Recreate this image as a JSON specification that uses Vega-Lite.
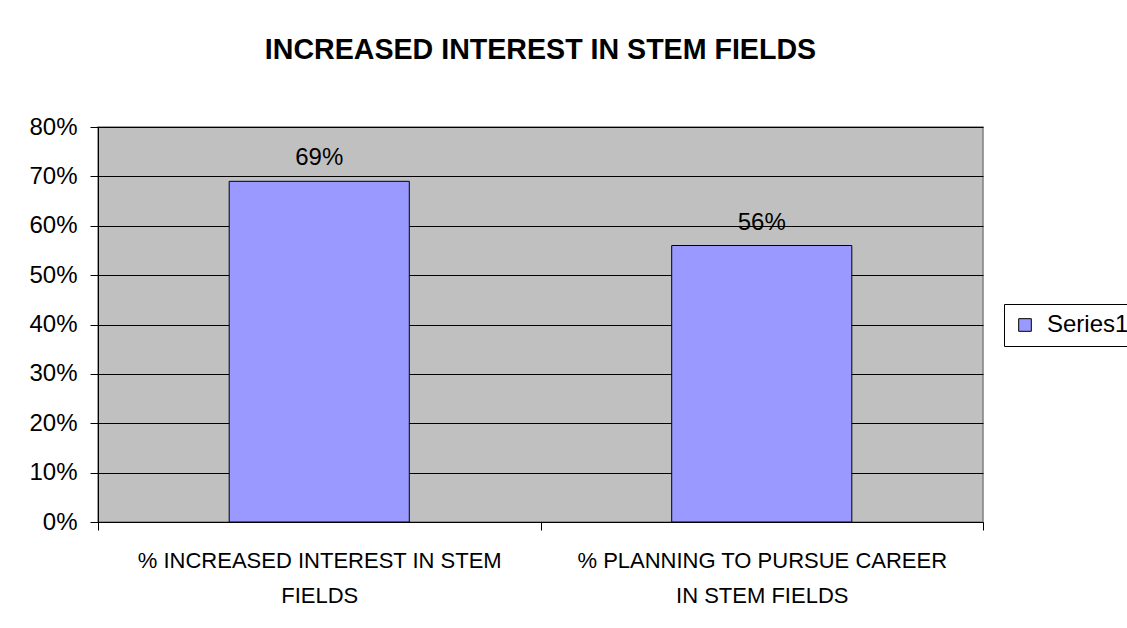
{
  "$schema": "https://vega.github.io/schema/vega-lite/v6.json",
  "width": 885,
  "height": 395,
  "autosize": {"type": "none"},
  "padding": {"left": 98, "top": 127, "right": 144, "bottom": 106},
  "background": "white",
  "title": {
    "text": "INCREASED INTEREST IN STEM FIELDS",
    "font": "Liberation Sans",
    "fontSize": 28.6,
    "fontWeight": "bold",
    "color": "black",
    "anchor": "middle",
    "frame": "group",
    "offset": 50
  },
  "data": {
    "values": [
      {"category": "% INCREASED INTEREST IN STEM FIELDS", "value": 0.69, "series": "Series1"},
      {"category": "% PLANNING TO PURSUE CAREER IN STEM FIELDS", "value": 0.56, "series": "Series1"}
    ]
  },
  "encoding": {
    "x": {
      "field": "category",
      "type": "nominal",
      "sort": null,
      "scale": {"paddingInner": 0, "paddingOuter": 0},
      "axis": {
        "title": null,
        "labelAngle": 0,
        "labelExpr": "datum.label == '% INCREASED INTEREST IN STEM FIELDS' ? ['% INCREASED INTEREST IN STEM', 'FIELDS'] : (datum.label == '% PLANNING TO PURSUE CAREER IN STEM FIELDS' ? ['% PLANNING TO PURSUE CAREER', 'IN STEM FIELDS'] : '')",
        "labelFont": "Liberation Sans",
        "labelFontSize": 22,
        "labelLineHeight": 35,
        "labelColor": "black",
        "labelPadding": 20,
        "labelLimit": 600,
        "tickBand": "extent",
        "tickSize": 8,
        "tickColor": "black",
        "domainColor": "black",
        "grid": false
      }
    },
    "y": {
      "field": "value",
      "type": "quantitative",
      "scale": {"domain": [0, 0.8], "nice": false},
      "axis": {
        "title": null,
        "values": [0, 0.1, 0.2, 0.3, 0.4, 0.5, 0.6, 0.7, 0.8],
        "format": ".0%",
        "labelFont": "Liberation Sans",
        "labelFontSize": 24,
        "labelColor": "black",
        "labelPadding": 13,
        "tickSize": 8,
        "tickColor": "black",
        "domainColor": "black",
        "grid": true,
        "gridColor": "black",
        "gridOpacity": 1
      }
    }
  },
  "layer": [
    {
      "mark": {"type": "bar", "stroke": "black", "strokeWidth": 1, "width": {"band": 0.407}},
      "encoding": {
        "color": {
          "field": "series",
          "type": "nominal",
          "scale": {"range": ["#9999FF"]},
          "legend": {
            "title": null,
            "orient": "none",
            "legendX": 906,
            "legendY": 177,
            "strokeColor": "black",
            "fillColor": "white",
            "padding": 9,
            "labelFont": "Liberation Sans",
            "labelFontSize": 24,
            "labelColor": "black",
            "symbolType": "square",
            "symbolSize": 160,
            "symbolStrokeColor": "black",
            "symbolStrokeWidth": 1,
            "labelOffset": 10
          }
        }
      }
    },
    {
      "mark": {"type": "text", "dy": -16, "fontSize": 24, "font": "Liberation Sans", "color": "black", "baseline": "alphabetic"},
      "encoding": {
        "text": {"field": "value", "type": "quantitative", "format": ".0%"}
      }
    }
  ],
  "config": {
    "font": "Liberation Sans",
    "view": {"fill": "#C0C0C0", "stroke": "#808080", "strokeWidth": 1.5}
  }
}
